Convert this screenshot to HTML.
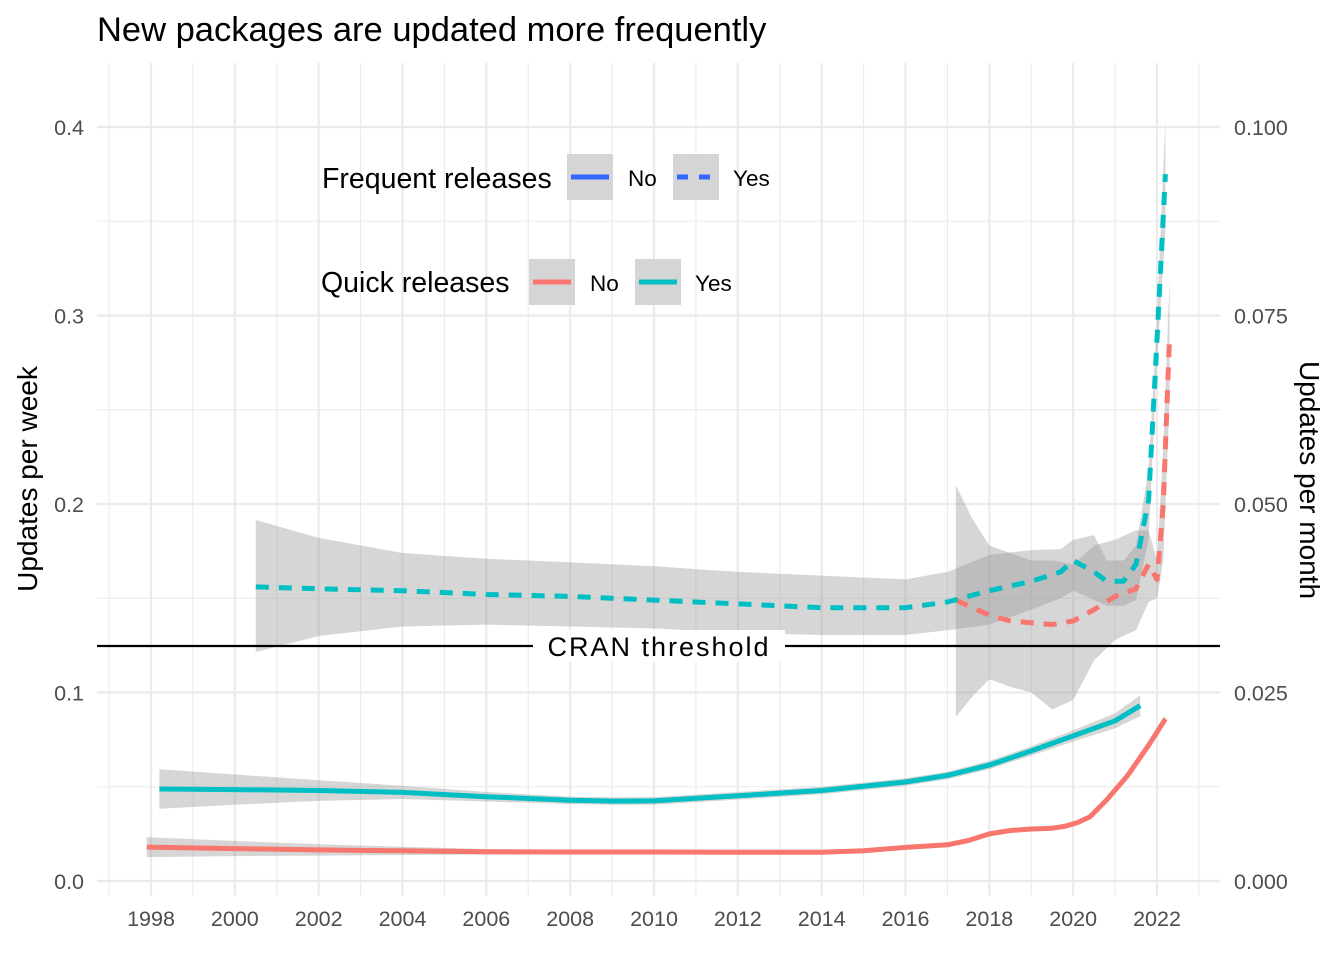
<!DOCTYPE html>
<html><head><meta charset="utf-8">
<style>
html,body{margin:0;padding:0;background:#fff;}
svg{display:block;font-family:"Liberation Sans",Arial,sans-serif;}
</style></head>
<body>
<svg id="chart" width="1344" height="960" viewBox="0 0 1344 960" xmlns="http://www.w3.org/2000/svg">
<rect width="1344" height="960" fill="#fff"/>
<g id="grid"></g>
<g id="ribbons"></g>
<g id="lines"></g>
<g id="threshold">
  <line x1="97" y1="646" x2="1220" y2="646" stroke="#000" stroke-width="2.2"/>
  <rect x="533" y="630" width="252" height="32" fill="#fff"/>
  <text x="659" y="656" text-anchor="middle" font-size="27" letter-spacing="2" fill="#000">CRAN threshold</text>
</g>
<g id="axes"></g>
<text x="97" y="41" font-size="34.5" fill="#000">New packages are updated more frequently</text>
<text transform="translate(37,479) rotate(-90)" text-anchor="middle" font-size="28" fill="#000">Updates per week</text>
<text transform="translate(1300,480) rotate(90)" text-anchor="middle" font-size="28" fill="#000">Updates per month</text>
<g id="legend-frequent">
  <text x="322" y="188" font-size="28.5" fill="#000">Frequent releases</text>
  <g>
    <rect x="567" y="154" width="46" height="46" fill="#d5d5d5"/>
    <line x1="571" y1="177" x2="609" y2="177" stroke="#3366ff" stroke-width="5"/>
    <text x="628" y="186" font-size="22.5" fill="#000">No</text>
  </g>
  <g>
    <rect x="673" y="154" width="46" height="46" fill="#d5d5d5"/>
    <line x1="677" y1="177" x2="715" y2="177" stroke="#3366ff" stroke-width="5" stroke-dasharray="11,11"/>
    <text x="733" y="186" font-size="22.5" fill="#000">Yes</text>
  </g>
</g>
<g id="legend-quick">
  <text x="321" y="292" font-size="28.5" fill="#000">Quick releases</text>
  <g>
    <rect x="529" y="259" width="46" height="46" fill="#d5d5d5"/>
    <line x1="533" y1="282" x2="571" y2="282" stroke="#f8766d" stroke-width="5"/>
    <text x="590" y="291" font-size="22.5" fill="#000">No</text>
  </g>
  <g>
    <rect x="635" y="259" width="46" height="46" fill="#d5d5d5"/>
    <line x1="639" y1="282" x2="677" y2="282" stroke="#00bfc4" stroke-width="5"/>
    <text x="695" y="291" font-size="22.5" fill="#000">Yes</text>
  </g>
</g>
</svg>
<script>
const xTickYears = [1998,2000,2002,2004,2006,2008,2010,2012,2014,2016,2018,2020,2022];
const yTicks = [0,0.1,0.2,0.3,0.4];
const yTickLabels = ["0.0","0.1","0.2","0.3","0.4"];
const y2TickLabels = ["0.000","0.025","0.050","0.075","0.100"];

// Quick=No, Frequent=No (solid red)
const redSolidYears = [1997.9,2000,2002,2004,2006,2008,2010,2012,2014,2015,2016,2017,2017.5,2018,2018.5,2019,2019.5,2019.8,2020.1,2020.4,2020.8,2021.3,2021.8,2022.2];
const redSolidVals  = [0.018,0.0172,0.0165,0.016,0.0155,0.0154,0.0154,0.0153,0.0153,0.016,0.0178,0.0192,0.0215,0.025,0.0268,0.0276,0.028,0.029,0.031,0.034,0.043,0.056,0.072,0.086];
const redSolidSe    = [0.0053,0.004,0.003,0.0022,0.0015,0.0012,0.0012,0.0012,0.0012,0.0012,0.0012,0.0012,0.0012,0.0012,0.0012,0.0012,0.0012,0.0012,0.0012,0.0013,0.0014,0.0015,0.0016,0.0018];
// Quick=Yes, Frequent=No (solid teal)
const tealSolidYears = [1998.2,2000,2002,2004,2006,2008,2009,2010,2012,2014,2016,2017,2018,2019,2020,2021,2021.6];
const tealSolidVals  = [0.0488,0.0485,0.048,0.047,0.0447,0.0428,0.0424,0.0425,0.0452,0.048,0.0525,0.056,0.0615,0.069,0.077,0.085,0.093];
const tealSolidSe    = [0.0105,0.008,0.0055,0.0035,0.0025,0.002,0.002,0.002,0.002,0.002,0.002,0.002,0.0022,0.0025,0.003,0.004,0.0055];
// Quick=No, Frequent=Yes (dashed red)
const redDashYears = [2017.2,2017.6,2018,2018.5,2019,2019.5,2020,2020.5,2021,2021.5,2021.8,2022.0,2022.15,2022.3];
const redDashVals  = [0.149,0.145,0.141,0.138,0.137,0.136,0.138,0.144,0.151,0.155,0.168,0.160,0.200,0.290];
const redDashLo    = [0.087,0.098,0.107,0.103,0.100,0.091,0.096,0.117,0.128,0.133,0.148,0.150,0.170,0.255];
const redDashHi    = [0.210,0.192,0.178,0.174,0.170,0.170,0.168,0.178,0.181,0.186,0.186,0.170,0.230,0.320];
// Quick=Yes, Frequent=Yes (dashed teal)
const tealDashYears = [2000.5,2002,2004,2006,2008,2010,2012,2014,2016,2017,2018,2019,2019.7,2020,2020.5,2020.8,2021.2,2021.5,2021.8,2022,2022.2];
const tealDashVals  = [0.156,0.155,0.154,0.152,0.151,0.149,0.147,0.145,0.145,0.148,0.154,0.159,0.164,0.170,0.164,0.159,0.159,0.168,0.202,0.287,0.375];
const tealDashLo    = [0.1215,0.130,0.135,0.136,0.135,0.134,0.1316,0.1305,0.1305,0.133,0.136,0.144,0.150,0.154,0.149,0.146,0.146,0.149,0.181,0.276,0.345];
const tealDashHi    = [0.1915,0.182,0.174,0.171,0.169,0.167,0.164,0.162,0.160,0.164,0.173,0.1756,0.176,0.181,0.1835,0.170,0.170,0.178,0.218,0.298,0.404];

const NS = "http://www.w3.org/2000/svg";
function X(yr){ return 151 + (yr-1998)*(1157-151)/24; }
function Y(v){ return 881 - v*1885; }
function mk(tag, attrs, parent){ const e=document.createElementNS(NS,tag); for(const k in attrs) e.setAttribute(k,attrs[k]); parent.appendChild(e); return e; }

const grid=document.getElementById('grid');
for(let yr=1997; yr<=2023; yr++){
  const major = yr%2===0;
  const l=mk('line',{x1:X(yr),x2:X(yr),y1:63,y2:896,stroke:'#ebebeb','stroke-width':major?2.2:1.1},grid);
  
  
}
for(let i=0;i<=8;i++){
  const v=i*0.05;
  const major=i%2===0;
  const l=mk('line',{x1:97,x2:1220,y1:Y(v),y2:Y(v),stroke:'#ebebeb','stroke-width':major?2.2:1.1},grid);
  
  
}

const axes=document.getElementById('axes');
xTickYears.forEach(yr=>{
  const t=mk('text',{x:X(yr),y:926,'text-anchor':'middle','font-size':21.5,fill:'#4d4d4d'},axes);
  t.textContent=String(yr);
  
  
});
yTicks.forEach((v,i)=>{
  const t=mk('text',{x:84,y:Y(v)+8,'text-anchor':'end','font-size':21.5,fill:'#4d4d4d'},axes);
  t.textContent=yTickLabels[i];
  
  
  const t2=mk('text',{x:1234,y:Y(v)+8,'text-anchor':'start','font-size':21.5,fill:'#4d4d4d'},axes);
  t2.textContent=y2TickLabels[i];
  
  
});

const rib=document.getElementById('ribbons');
function ribbon(xs,lo,hi,name){
  let d='M'+xs.map((x,i)=>X(x).toFixed(1)+','+Y(hi[i]).toFixed(1)).join(' L');
  for(let i=xs.length-1;i>=0;i--) d+=' L'+X(xs[i]).toFixed(1)+','+Y(lo[i]).toFixed(1);
  d+=' Z';
  const p=mk('path',{d:d,fill:'#999999','fill-opacity':0.4},rib);
  
  
}
ribbon(redSolidYears, redSolidVals.map((v,i)=>v-redSolidSe[i]), redSolidVals.map((v,i)=>v+redSolidSe[i]), 'ribbon-quick-no-frequent-no');
ribbon(tealSolidYears, tealSolidVals.map((v,i)=>v-tealSolidSe[i]), tealSolidVals.map((v,i)=>v+tealSolidSe[i]), 'ribbon-quick-yes-frequent-no');
ribbon(redDashYears, redDashLo, redDashHi, 'ribbon-quick-no-frequent-yes');
ribbon(tealDashYears, tealDashLo, tealDashHi, 'ribbon-quick-yes-frequent-yes');

const lines=document.getElementById('lines');
function line(xs,vs,color,dash,name){
  const pts=xs.map((x,i)=>X(x).toFixed(1)+','+Y(vs[i]).toFixed(1)).join(' ');
  const a={points:pts,fill:'none',stroke:color,'stroke-width':5,'stroke-linejoin':'round'};
  if(dash) a['stroke-dasharray']='13,10';
  const p=mk('polyline',a,lines);
  
  
}
line(redSolidYears, redSolidVals, '#f8766d', false, 'line-quick-no-frequent-no');
line(tealSolidYears, tealSolidVals, '#00bfc4', false, 'line-quick-yes-frequent-no');
line(redDashYears, redDashVals, '#f8766d', true, 'line-quick-no-frequent-yes');
line(tealDashYears, tealDashVals, '#00bfc4', true, 'line-quick-yes-frequent-yes');
</script>
</body></html>
